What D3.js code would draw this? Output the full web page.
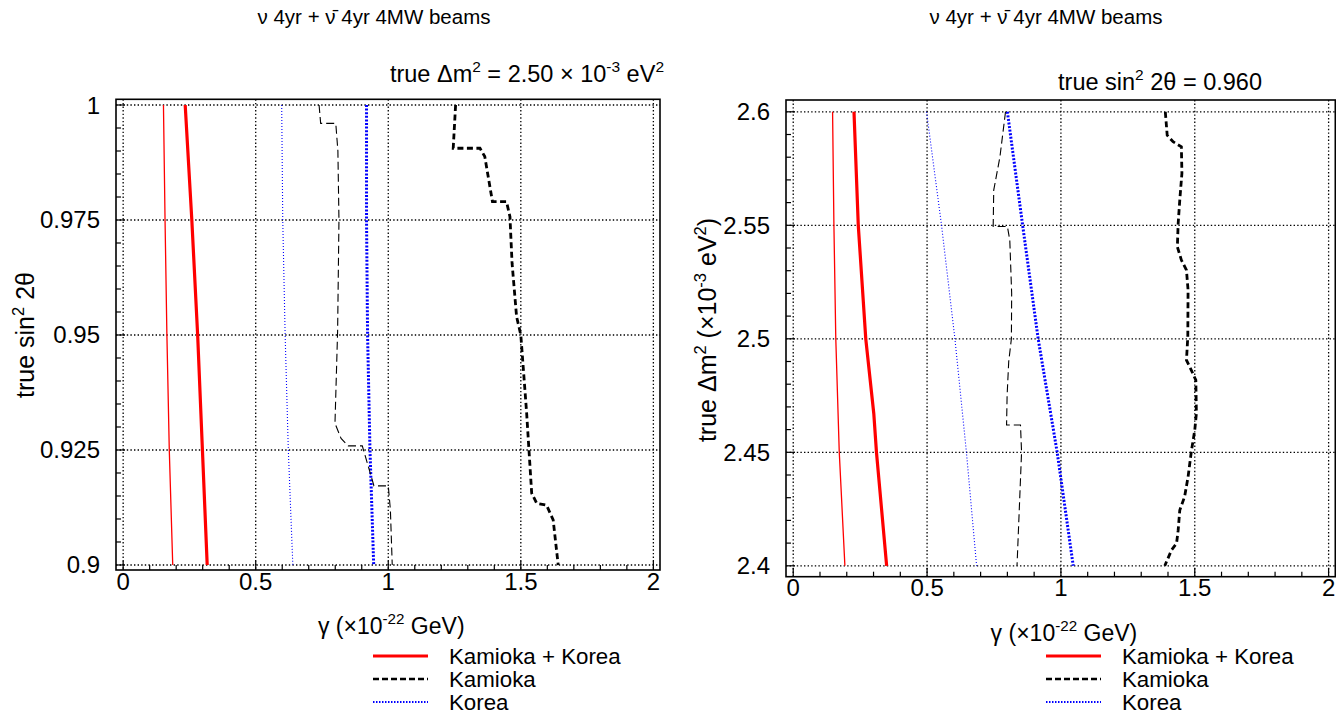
<!DOCTYPE html>
<html>
<head>
<meta charset="utf-8">
<script src="https://cdn.jsdelivr.net/npm/d3@7"></script>
<style>
  body { margin: 0; background: #fff; }
  svg { display: block; font-family: "Liberation Sans", Arial, sans-serif; }
</style>
</head>
<body>
<div id="chart"></div>
<script>
// tick labels
var gammaTicks = [0, 0.5, 1, 1.5, 2];
var sinTicks = [0.9, 0.925, 0.95, 0.975, 1];
var sinTickLabels = ["0.9", "0.925", "0.95", "0.975", "1"];
var dmTicks = [2.4, 2.45, 2.5, 2.55, 2.6];
var dmTickLabels = ["2.4", "2.45", "2.5", "2.55", "2.6"];

var legendLabels = ["Kamioka + Korea", "Kamioka", "Korea"];

// left panel, true dm2 = 2.50e-3 : [gamma, true sin^2 2theta]
var leftBothThin = [[0.152, 1], [0.158, 0.975], [0.165, 0.95], [0.174, 0.925], [0.187, 0.9]];
var leftBothThick = [[0.234, 1], [0.259, 0.975], [0.281, 0.95], [0.299, 0.925], [0.317, 0.9]];
var leftKoreaThin = [[0.598, 1], [0.602, 0.975], [0.611, 0.95], [0.623, 0.925], [0.64, 0.9]];
var leftKoreaThick = [[0.918, 1], [0.918, 0.975], [0.922, 0.95], [0.931, 0.925], [0.945, 0.9]];
var leftKamiokaThin = [[0.739, 1], [0.745, 0.996], [0.802, 0.996], [0.81, 0.99], [0.814, 0.975],
  [0.809, 0.951], [0.799, 0.9308], [0.822, 0.9275], [0.849, 0.9259], [0.902, 0.9259],
  [0.946, 0.9172], [1.0, 0.9172], [1.008, 0.912], [1.015, 0.9]];
var leftKamiokaThick = [[1.254, 1], [1.245, 0.9906], [1.346, 0.9906], [1.364, 0.9888], [1.393, 0.979],
  [1.446, 0.979], [1.459, 0.9757], [1.467, 0.9656], [1.484, 0.954], [1.5, 0.95], [1.522, 0.933],
  [1.541, 0.9156], [1.56, 0.9134], [1.597, 0.913], [1.622, 0.9098], [1.641, 0.9]];

// right panel, true sin^2 2theta = 0.960 : [gamma, true dm2 (1e-3 eV2)]
var rightBothThin = [[0.147, 2.6], [0.152, 2.55], [0.159, 2.5], [0.172, 2.45], [0.193, 2.4]];
var rightBothThick = [[0.227, 2.6], [0.243, 2.55], [0.271, 2.5], [0.301, 2.467], [0.311, 2.45], [0.349, 2.4]];
var rightKoreaThin = [[0.498, 2.6], [0.554, 2.55], [0.604, 2.5], [0.647, 2.45], [0.685, 2.4]];
var rightKoreaThick = [[0.8, 2.6], [0.857, 2.55], [0.915, 2.5], [0.986, 2.45], [1.046, 2.4]];
var rightKamiokaThin = [[0.793, 2.6], [0.772, 2.58], [0.749, 2.5655], [0.747, 2.5495], [0.8, 2.5495],
  [0.809, 2.5435], [0.816, 2.52], [0.815, 2.5], [0.805, 2.49], [0.799, 2.475], [0.797, 2.462],
  [0.849, 2.462], [0.853, 2.45], [0.836, 2.4]];
var rightKamiokaThick = [[1.39, 2.6], [1.397, 2.5897], [1.419, 2.5868], [1.45, 2.5846], [1.452, 2.5729],
  [1.444, 2.5611], [1.438, 2.5508], [1.435, 2.5405], [1.45, 2.5347], [1.469, 2.5303], [1.475, 2.5215],
  [1.474, 2.5009], [1.469, 2.4906], [1.487, 2.4862], [1.504, 2.4818], [1.506, 2.4671], [1.5, 2.4598],
  [1.487, 2.4502], [1.475, 2.4392], [1.462, 2.4304], [1.444, 2.4245], [1.438, 2.4157], [1.432, 2.4099],
  [1.413, 2.4069], [1.388, 2.4]];

var W = 1336, H = 714;
var svg = d3.select("#chart").append("svg").attr("width", W).attr("height", H);

// line styles
var styles = {
  bothThin: { color: "#ff0000", width: 1.3, dash: null },
  bothThick: { color: "#ff0000", width: 3.2, dash: null },
  kamThin: { color: "#000", width: 1.1, dash: "8,4" },
  kamThick: { color: "#000", width: 2.8, dash: "6,3.5" },
  korThin: { color: "#0000ff", width: 1.1, dash: "1,2" },
  korThick: { color: "#0000ff", width: 3, dash: "2,1.6" }
};

// text with superscripts, parts: [text, isSup]
function addSup(sel, parts, fs) {
  var up = false;
  parts.forEach(function (p) {
    var t = sel.append("tspan").text(p[0]);
    if (p[1] && !up) { t.attr("dy", -0.42 * fs).attr("font-size", 0.66 * fs); up = true; }
    else if (p[1]) { t.attr("font-size", 0.66 * fs); }
    else if (up) { t.attr("dy", 0.42 * fs); up = false; }
  });
}

function panel(cfg) {
  var x = d3.scaleLinear().domain([-0.027, 2.025]).range([cfg.left, cfg.right]);
  var y = d3.scaleLinear().domain(cfg.yDomain).range([cfg.bottom, cfg.top]);
  var g = svg.append("g");

  // grid
  g.selectAll(".gx").data(gammaTicks).enter().append("line")
    .attr("x1", function (d) { return x(d); }).attr("x2", function (d) { return x(d); })
    .attr("y1", cfg.top).attr("y2", cfg.bottom)
    .attr("stroke", "#000").attr("stroke-width", 1.3).attr("stroke-dasharray", "1.4,2.2");
  g.selectAll(".gy").data(cfg.yTicks).enter().append("line")
    .attr("y1", function (d) { return y(d); }).attr("y2", function (d) { return y(d); })
    .attr("x1", cfg.left).attr("x2", cfg.right)
    .attr("stroke", "#000").attr("stroke-width", 1.3).attr("stroke-dasharray", "1.4,2.2");

  // ticks (inward, left and bottom)
  g.selectAll(".tx").data(x.ticks(20)).enter().append("line")
    .attr("x1", function (d) { return x(d); }).attr("x2", function (d) { return x(d); })
    .attr("y1", cfg.bottom)
    .attr("y2", function (d) { return cfg.bottom - (gammaTicks.indexOf(d) >= 0 ? 9 : 5); })
    .attr("stroke", "#000").attr("stroke-width", 1.2);
  g.selectAll(".ty").data(y.ticks(20)).enter().append("line")
    .attr("y1", function (d) { return y(d); }).attr("y2", function (d) { return y(d); })
    .attr("x1", cfg.left)
    .attr("x2", function (d) {
      var major = cfg.yTicks.some(function (t) { return Math.abs(t - d) < 1e-9; });
      return cfg.left + (major ? 9 : 5);
    })
    .attr("stroke", "#000").attr("stroke-width", 1.2);

  // curves
  var line = d3.line().x(function (d) { return x(d[0]); }).y(function (d) { return y(d[1]); });
  cfg.curves.forEach(function (c) {
    var s = styles[c.style];
    g.append("path").datum(c.data)
      .attr("d", line)
      .attr("fill", "none")
      .attr("stroke", s.color)
      .attr("stroke-width", s.width)
      .attr("stroke-dasharray", s.dash);
  });

  // frame
  g.append("rect")
    .attr("x", cfg.left).attr("y", cfg.top)
    .attr("width", cfg.right - cfg.left).attr("height", cfg.bottom - cfg.top)
    .attr("fill", "none").attr("stroke", "#000").attr("stroke-width", 1.6);

  // tick labels
  g.selectAll(".lx").data(gammaTicks).enter().append("text")
    .attr("x", function (d) { return x(d); }).attr("y", cfg.bottom + 19.5)
    .attr("text-anchor", "middle").attr("font-size", 24)
    .text(function (d) { return d3.format("")(d); });
  g.selectAll(".ly").data(cfg.yTicks).enter().append("text")
    .attr("x", cfg.left - 16).attr("y", function (d) { return y(d) + 8.5; })
    .attr("text-anchor", "end").attr("font-size", 24)
    .text(function (d, i) { return cfg.yTickLabels[i]; });

  // x title
  var xt = g.append("text")
    .attr("x", (x(0) + x(2)) / 2 + 3).attr("y", cfg.bottom + 64)
    .attr("text-anchor", "middle").attr("font-size", 23);
  addSup(xt, [["\u03b3  (\u00d710", 0], ["-22", 1], [" GeV)", 0]], 23);

  // y title
  var yt = g.append("text")
    .attr("transform", "translate(" + cfg.yTitleX + "," + cfg.yTitleY + ") rotate(-90)")
    .attr("text-anchor", "middle").attr("font-size", 25);
  addSup(yt, cfg.yTitle, 25);

  // title
  g.append("text")
    .attr("x", cfg.titleX).attr("y", 24)
    .attr("text-anchor", "middle").attr("font-size", 20.5)
    .text("\u03bd 4yr + \u03bd\u0304 4yr 4MW beams");

  // subtitle
  var st = g.append("text")
    .attr("x", cfg.subX).attr("y", cfg.subY)
    .attr("text-anchor", "end").attr("font-size", 23.5);
  addSup(st, cfg.sub, 23.5);

  // legend
  var lg = g.append("g").attr("transform", "translate(" + cfg.legX + ",656)");
  var legStyles = [
    { color: "#ff0000", width: 3, dash: null },
    { color: "#000", width: 2.5, dash: "6,3" },
    { color: "#0000ff", width: 2, dash: "1.5,1.5" }
  ];
  lg.selectAll("line").data(legendLabels).enter().append("line")
    .attr("x1", 0).attr("x2", 55)
    .attr("y1", function (d, i) { return i * 23; }).attr("y2", function (d, i) { return i * 23; })
    .attr("stroke", function (d, i) { return legStyles[i].color; })
    .attr("stroke-width", function (d, i) { return legStyles[i].width; })
    .attr("stroke-dasharray", function (d, i) { return legStyles[i].dash; });
  lg.selectAll("text").data(legendLabels).enter().append("text")
    .attr("x", 76).attr("y", function (d, i) { return i * 23 + 8; })
    .attr("font-size", 22.3)
    .text(function (d) { return d; });
}

panel({
  left: 116, right: 660, top: 99.3, bottom: 570,
  yDomain: [0.89891, 1.00124],
  yTicks: sinTicks, yTickLabels: sinTickLabels,
  yTitle: [["true sin", 0], ["2", 1], [" 2\u03b8", 0]],
  yTitleX: 34, yTitleY: 335,
  titleX: 374,
  sub: [["true \u0394m", 0], ["2", 1], [" = 2.50 \u00d7 10", 0], ["-3", 1], [" eV", 0], ["2", 1]],
  subX: 664, subY: 82,
  legX: 373,
  curves: [
    { data: leftBothThin, style: "bothThin" },
    { data: leftBothThick, style: "bothThick" },
    { data: leftKoreaThin, style: "korThin" },
    { data: leftKoreaThick, style: "korThick" },
    { data: leftKamiokaThin, style: "kamThin" },
    { data: leftKamiokaThick, style: "kamThick" }
  ]
});

panel({
  left: 786, right: 1335.3, top: 100, bottom: 576.7,
  yDomain: [2.3952, 2.6052],
  yTicks: dmTicks, yTickLabels: dmTickLabels,
  yTitle: [["true \u0394m", 0], ["2", 1], [" (\u00d710", 0], ["-3", 1], [" eV", 0], ["2", 1], [")", 0]],
  yTitleX: 716, yTitleY: 330,
  titleX: 1046,
  sub: [["true sin", 0], ["2", 1], [" 2\u03b8 = 0.960", 0]],
  subX: 1262, subY: 90,
  legX: 1046,
  curves: [
    { data: rightBothThin, style: "bothThin" },
    { data: rightBothThick, style: "bothThick" },
    { data: rightKoreaThin, style: "korThin" },
    { data: rightKoreaThick, style: "korThick" },
    { data: rightKamiokaThin, style: "kamThin" },
    { data: rightKamiokaThick, style: "kamThick" }
  ]
});
</script>
</body>
</html>
